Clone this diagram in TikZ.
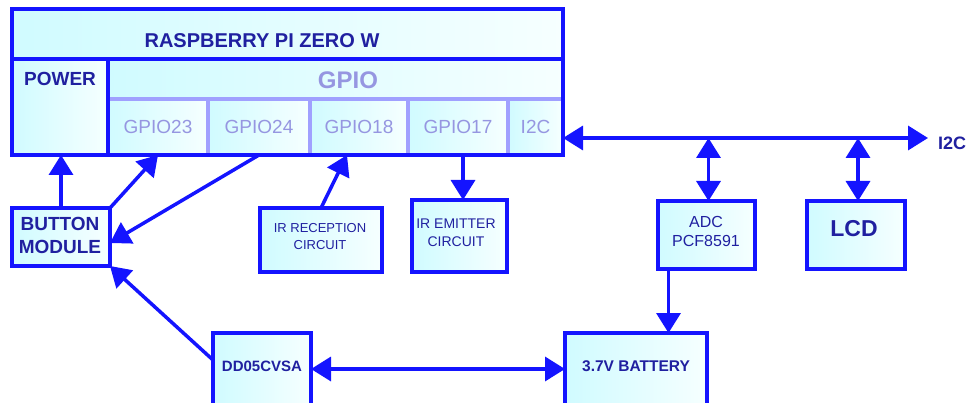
\documentclass[tikz,border=0pt]{standalone}
\usepackage{fontspec}
\setmainfont{Liberation Sans}
\usetikzlibrary{arrows.meta,shadings,calc}
\definecolor{lnblue}{RGB}{20,20,255}
\definecolor{lightln}{RGB}{160,160,255}
\definecolor{txtblue}{RGB}{32,32,160}
\definecolor{gpiotxt}{RGB}{150,150,225}
\definecolor{fillL}{RGB}{208,251,255}
\definecolor{fillR}{RGB}{246,255,255}
\tikzset{
  cell/.style={rectangle, inner sep=0pt, outer sep=0pt, left color=fillL, right color=fillR},
  blk/.style={cell, draw=lnblue, line width=3.5pt},
  lbl/.style={inner sep=0pt, text=txtblue, align=center},
  sub/.style={cell, text=gpiotxt, font=\fontsize{19}{21}\selectfont},
  conn/.style={draw=lnblue, line width=3.5pt, -{Triangle[length=20pt,width=24pt]}},
  dconn/.style={draw=lnblue, line width=3.5pt, {Triangle[length=20pt,width=24pt]}-{Triangle[length=20pt,width=24pt]}},
}
\begin{document}
\begin{tikzpicture}[x=1pt,y=-1pt]
\useasboundingbox (0,0) rectangle (968,403);
% Raspberry Pi regions
\node[cell, minimum width=551pt, minimum height=50pt] (titlebox) at (287.5,34) {};
\node[cell, minimum width=96pt, minimum height=96pt] (power) at (60,107) {};
\node[cell, minimum width=455pt, minimum height=40pt] (gpiobox) at (335.5,79) {};
\node[sub, minimum width=100pt, minimum height=56pt] (gpio23) at (158,127) {GPIO23};
\node[sub, minimum width=102pt, minimum height=56pt] (gpio24) at (259,127) {GPIO24};
\node[sub, minimum width=98pt, minimum height=56pt] (gpio18) at (359,127) {GPIO18};
\node[sub, minimum width=100pt, minimum height=56pt] (gpio17) at (458,127) {GPIO17};
\node[sub, minimum width=55pt, minimum height=56pt] (i2c) at (535.5,127) {I2C};
% light dividers
\draw[lightln, line width=4pt] (gpio23.north west) -- (i2c.north east);
\foreach \c in {gpio23,gpio24,gpio18,gpio17}
  \draw[lightln, line width=4pt] (\c.north east) -- (\c.south east);
% outlines
\node[draw=lnblue, line width=3.5pt, inner sep=0pt, minimum width=551pt, minimum height=146pt] (pi) at (287.5,82) {};
\draw[lnblue, line width=3.5pt] (titlebox.south west) -- (titlebox.south east);
\draw[lnblue, line width=3.5pt] (power.north east) -- (power.south east);
% labels
\node[lbl, font=\bfseries\fontsize{20}{22}\selectfont] (titlet) at (262,41) {RASPBERRY PI ZERO W};
\node[lbl, font=\bfseries\fontsize{19}{21}\selectfont] (powert) at (60,79) {POWER};
\node[lbl, text=gpiotxt, font=\bfseries\fontsize{24}{26}\selectfont] (gpiot) at (348,80) {GPIO};
% other blocks
\node[blk, minimum width=98pt, minimum height=58pt] (button) at (61,237) {};
\node[lbl, font=\bfseries\fontsize{19}{23}\selectfont] (buttont) at (60,235) {BUTTON\\MODULE};
\node[blk, minimum width=122pt, minimum height=64pt] (irrec) at (321,240) {};
\node[lbl, font=\fontsize{13}{17}\selectfont] (irrect) at (320,237) {IR RECEPTION\\CIRCUIT};
\node[blk, minimum width=95pt, minimum height=72pt] (iremit) at (459.5,236) {};
\node[lbl, font=\fontsize{14}{18}\selectfont] (iremitt) at (456,233) {IR EMITTER\\CIRCUIT};
\node[blk, minimum width=97pt, minimum height=68pt] (adc) at (706.5,235) {};
\node[lbl, font=\fontsize{16}{19}\selectfont] (adct) at (706,231) {ADC\\PCF8591};
\node[blk, minimum width=98pt, minimum height=68pt] (lcd) at (856,235) {};
\node[lbl, font=\bfseries\fontsize{23}{25}\selectfont] (lcdt) at (854,229) {LCD};
\node[blk, minimum width=98pt, minimum height=72pt] (dd) at (262,369) {};
\node[lbl, font=\bfseries\fontsize{15}{17}\selectfont] (ddt) at (262,366) {DD05CVSA};
\node[blk, minimum width=142pt, minimum height=72pt] (battery) at (636,369) {};
\node[lbl, font=\bfseries\fontsize{15.5}{17}\selectfont] (batteryt) at (636,366) {3.7V BATTERY};
% I2C bus
\coordinate (i2cend) at (928,138);
\node[lbl, anchor=west, font=\bfseries\fontsize{18}{20}\selectfont] (i2ct) at (938,143) {I2C};
% connectors
\draw[conn] (button.north) -- (button.north |- power.south);
\draw[conn] (button.north east) -- (gpio23.south);
\draw[conn] (gpio24.south) -- ([yshift=-6pt]button.east);
\draw[conn] (irrec.north) -- ([xshift=-12pt]gpio18.south);
\draw[conn] ([xshift=5pt]gpio17.south) -- ([xshift=5pt]gpio17.south |- iremit.north);
\draw[dconn] ([yshift=-11pt]i2c.east) -- (i2cend);
\draw[dconn] ([xshift=2pt]adc.north |- i2cend) -- ([xshift=2pt]adc.north);
\draw[dconn] ([xshift=2pt]lcd.north |- i2cend) -- ([xshift=2pt]lcd.north);
\draw[conn] ([xshift=-38pt]adc.south) -- ([xshift=-38pt]adc.south |- battery.north);
\draw[dconn] (dd.east) -- (battery.west);
\draw[conn] ([yshift=9pt]dd.west) -- (button.south east);
\end{tikzpicture}
\end{document}
